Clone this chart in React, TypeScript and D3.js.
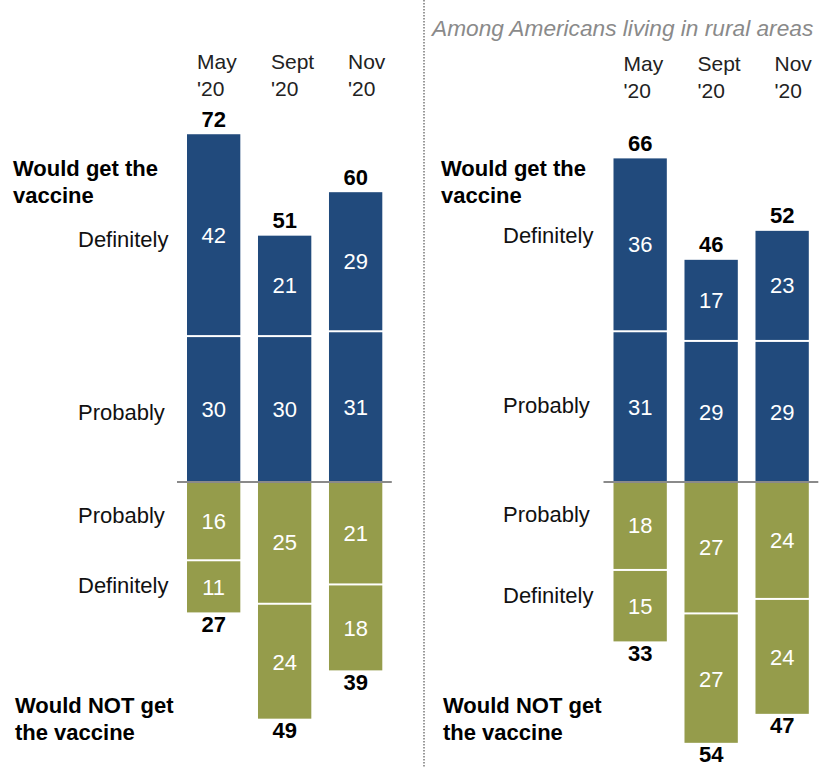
import React from "react";
import * as d3 from "d3";

const monthLine1 = ["May", "Sept", "Nov"];
const monthLine2 = ["'20", "'20", "'20"];

// All adults
const allDefYes = [42, 21, 29];
const allProbYes = [30, 30, 31];
const allProbNo = [16, 25, 21];
const allDefNo = [11, 24, 18];
const allTotalYes = [72, 51, 60];
const allTotalNo = [27, 49, 39];

// Rural
const ruralDefYes = [36, 17, 23];
const ruralProbYes = [31, 29, 29];
const ruralProbNo = [18, 27, 24];
const ruralDefNo = [15, 27, 24];
const ruralTotalYes = [66, 46, 52];
const ruralTotalNo = [33, 54, 47];

const subtitle = "Among Americans living in rural areas";

const BLUE = "#214a7c";
const GREEN = "#959c4b";
const FONT = "'Liberation Sans', Arial, sans-serif";

const W = 823;
const H = 767;

const y = d3.scaleLinear().domain([-60, 75]).range([482 + 60 * 4.83, 482 - 75 * 4.83]);

const monthOffsets = [10, 13, 19];

type PanelProps = {
  x0: number;
  x1: number;
  labelX: number;
  groupX: number;
  monthY: number;
  labelDy: number[];
  defYes: number[];
  probYes: number[];
  probNo: number[];
  defNo: number[];
  totalYes: number[];
  totalNo: number[];
};

function Panel(p: PanelProps) {
  const x = d3.scaleBand<string>().domain(monthLine1).range([p.x0, p.x1]).paddingInner(0.249).paddingOuter(0);
  const bw = x.bandwidth();
  const segs: { m: string; i: number; a: number; b: number; c: string; v: number }[] = [];
  monthLine1.forEach((m, i) => {
    segs.push({ m, i, a: 0, b: p.probYes[i], c: BLUE, v: p.probYes[i] });
    segs.push({ m, i, a: p.probYes[i], b: p.probYes[i] + p.defYes[i], c: BLUE, v: p.defYes[i] });
    segs.push({ m, i, a: 0, b: -p.probNo[i], c: GREEN, v: p.probNo[i] });
    segs.push({ m, i, a: -p.probNo[i], b: -p.probNo[i] - p.defNo[i], c: GREEN, v: p.defNo[i] });
  });
  const rowLabels = [
    { t: "Definitely", v: p.probYes[0] + p.defYes[0] / 2 },
    { t: "Probably", v: p.probYes[0] / 2 },
    { t: "Probably", v: -p.probNo[0] / 2 },
    { t: "Definitely", v: -p.probNo[0] - p.defNo[0] / 2 },
  ];
  return (
    <g>
      {monthLine1.map((m, i) => (
        <text key={"m" + i} x={(x(m) as number) + monthOffsets[i]} y={p.monthY} fontSize={21} fontFamily={FONT} fill="#222">
          <tspan x={(x(m) as number) + monthOffsets[i]}>{m}</tspan>
          <tspan x={(x(m) as number) + monthOffsets[i]} dy={27}>{monthLine2[i]}</tspan>
        </text>
      ))}
      {segs.map((s, k) => {
        const top = Math.min(y(s.a), y(s.b));
        const bot = Math.max(y(s.a), y(s.b));
        const inner = s.a !== 0;
        const t2 = inner && s.b > 0 ? top : inner ? top + 2 : top;
        const b2 = inner && s.b > 0 ? bot - 2 : bot;
        return (
          <g key={"s" + k}>
            <rect x={x(s.m)} y={t2} width={bw} height={b2 - t2} fill={s.c} />
            <text
              x={(x(s.m) as number) + bw / 2}
              y={(t2 + b2) / 2}
              dy="0.36em"
              textAnchor="middle"
              fontSize={22}
              fontFamily={FONT}
              fill="#fff"
            >
              {s.v}
            </text>
          </g>
        );
      })}
      <line x1={p.x0 - 10} x2={p.x1 + 9.5} y1={y(0)} y2={y(0)} stroke="#8a8a8a" strokeWidth={2} />
      {monthLine1.map((m, i) => (
        <text
          key={"ty" + i}
          x={(x(m) as number) + bw / 2}
          y={y(p.probYes[i] + p.defYes[i]) - 7.5}
          textAnchor="middle"
          fontSize={22}
          fontWeight="bold"
          fontFamily={FONT}
          fill="#000"
        >
          {p.totalYes[i]}
        </text>
      ))}
      {monthLine1.map((m, i) => (
        <text
          key={"tn" + i}
          x={(x(m) as number) + bw / 2}
          y={y(-p.probNo[i] - p.defNo[i]) + 19.5}
          textAnchor="middle"
          fontSize={22}
          fontWeight="bold"
          fontFamily={FONT}
          fill="#000"
        >
          {p.totalNo[i]}
        </text>
      ))}
      {rowLabels.map((r, k) => (
        <text key={"r" + k} x={p.labelX} y={y(r.v) + 7.5 + p.labelDy[k]} fontSize={22} fontFamily={FONT} fill="#111">
          {r.t}
        </text>
      ))}
      <text x={p.groupX} y={176} fontSize={22} fontWeight="bold" fontFamily={FONT} fill="#000">
        <tspan x={p.groupX}>Would get the</tspan>
        <tspan x={p.groupX} dy={26.5}>vaccine</tspan>
      </text>
      <text x={p.groupX + 2} y={713} fontSize={22} fontWeight="bold" fontFamily={FONT} fill="#000">
        <tspan x={p.groupX + 2}>Would NOT get</tspan>
        <tspan x={p.groupX + 2} dy={27}>the vaccine</tspan>
      </text>
    </g>
  );
}

export default function App() {
  return (
    <svg width={W} height={H} style={{ display: "block", position: "absolute", left: 0, top: 0 }}>
      <rect width={W} height={H} fill="#fff" />
      <line x1={424} x2={424} y1={0} y2={H} stroke="#999" strokeWidth={2} strokeDasharray="1.5 1.5" />
      <text x={432} y={36} fontSize={22.7} fontStyle="italic" fontFamily={FONT} fill="#8a8a8a">
        {subtitle}
      </text>
      <Panel
        x0={187}
        x1={382.3}
        labelX={78}
        groupX={13}
        monthY={69}
        labelDy={[3.5, 3, -5, -0.5]}
        defYes={allDefYes}
        probYes={allProbYes}
        probNo={allProbNo}
        defNo={allDefNo}
        totalYes={allTotalYes}
        totalNo={allTotalNo}
      />
      <Panel
        x0={613.5}
        x1={808.8}
        labelX={503}
        groupX={441}
        monthY={71}
        labelDy={[-9.5, -1.3, -11, -9.5]}
        defYes={ruralDefYes}
        probYes={ruralProbYes}
        probNo={ruralProbNo}
        defNo={ruralDefNo}
        totalYes={ruralTotalYes}
        totalNo={ruralTotalNo}
      />
    </svg>
  );
}
